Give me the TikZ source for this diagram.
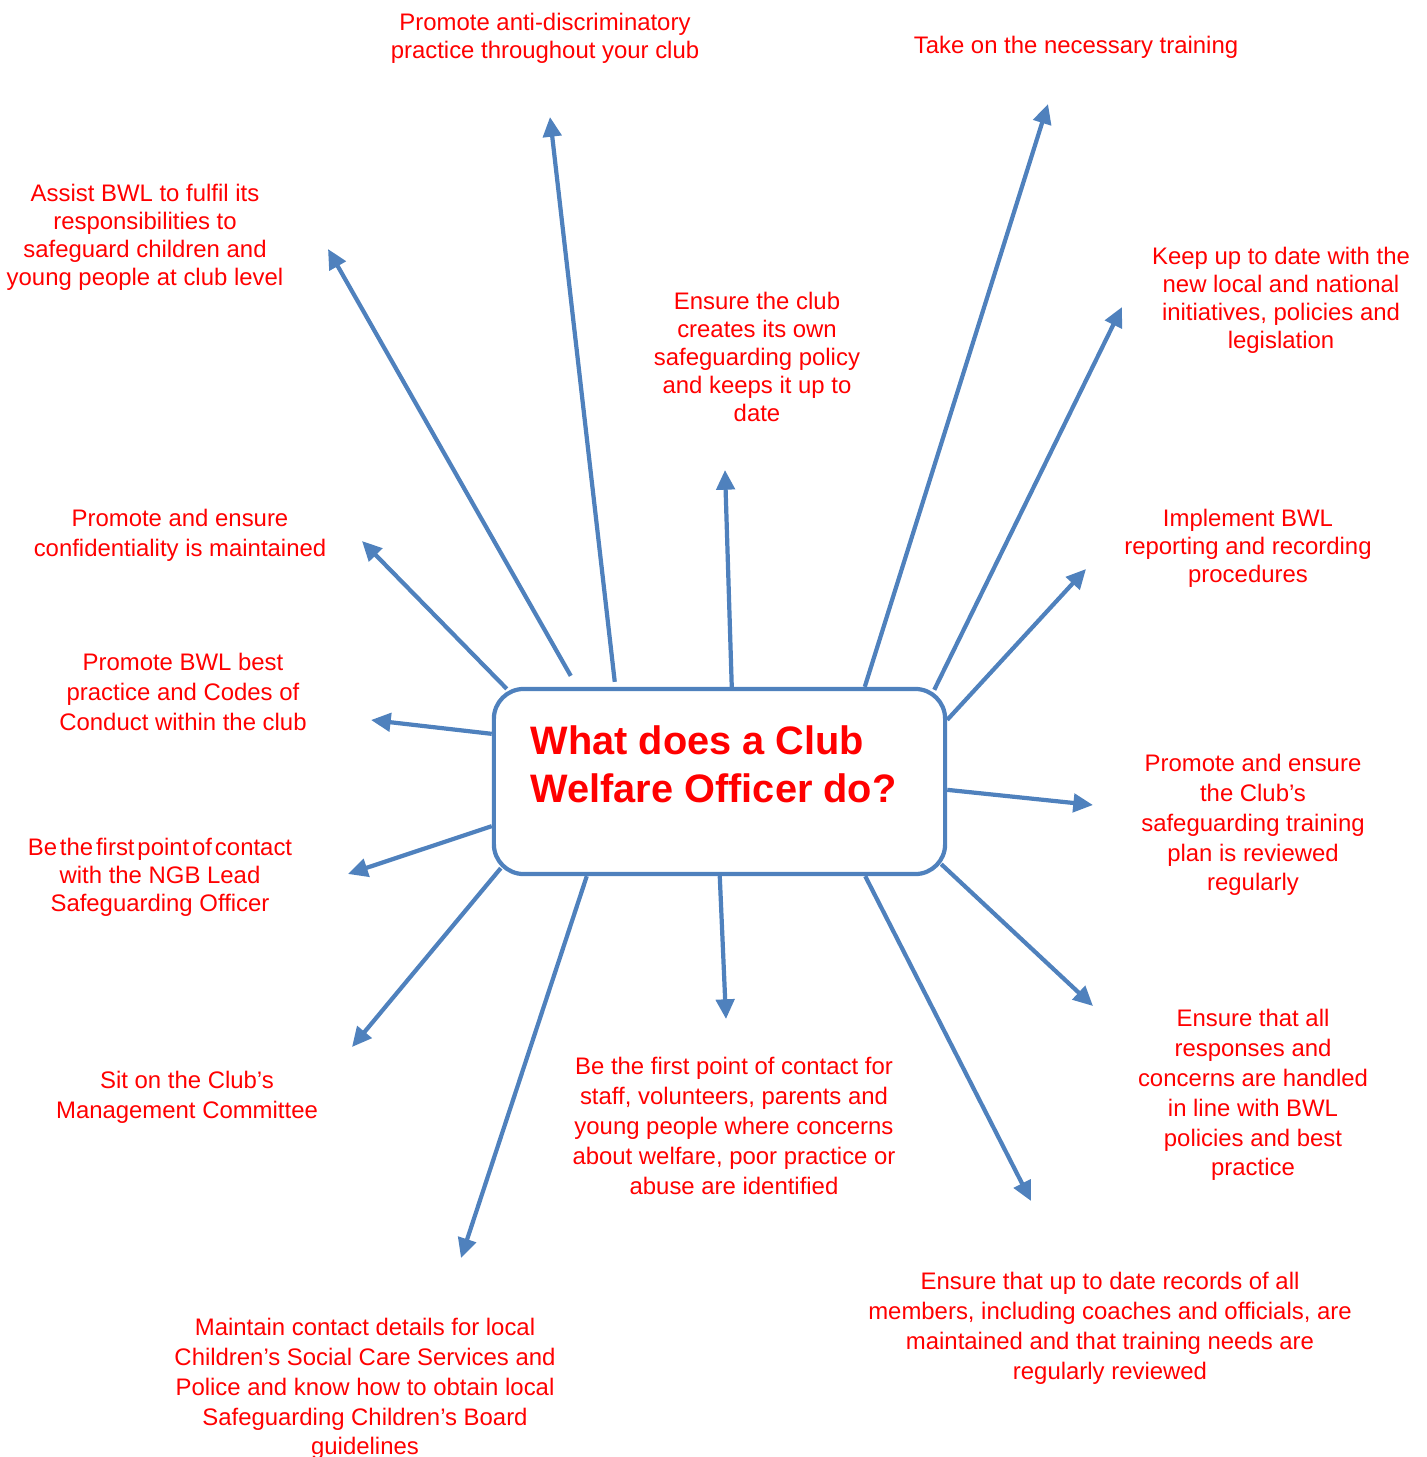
\documentclass[tikz,border=0pt]{standalone}
\usepackage{fontspec}
\setmainfont{Liberation Sans}
\usepackage{tikz}
\usetikzlibrary{positioning, arrows.meta}
\definecolor{wblue}{HTML}{4F81BD}
\definecolor{wred}{HTML}{FF0000}
\tikzset{
every node/.style={inner sep=0pt}, % labels sit right on their coordinates
duty/.style={text=wred, align=center, font=\fontsize{6.8}{7.97}\selectfont}, % the tighter labels
dutyw/.style={duty, font=\fontsize{6.8}{8.5}\selectfont}, % same, with a looser leading
hub/.style={draw=wblue, line width=1.2pt, rounded corners=8.5pt, fill=white, minimum width=4.51cm, minimum height=1.85cm}, % the central box
spoke/.style={draw=wblue, line width=1.2pt, -{Triangle[length=5.6pt,width=5.2pt]}}, % the arrows out of the box
}

\begin{document}
\begin{tikzpicture}[x=0.01cm, y=-0.01cm]
        \useasboundingbox (0,0) rectangle (1427,1457);

        \node[hub] (hub) at (719.5,781.5) {};
        \node[anchor=west, text=wred, align=left, font=\fontsize{11.3}{13.7}\selectfont\bfseries] (title) at (530,764) {What does a Club\\Welfare Officer do?};

        \node[duty ] (anti)    at (545,38)   {Promote anti-discriminatory\\practice throughout your club};
        \node[duty ] (train)   at (1076,47)  {Take on the necessary training};
        \node[duty ] (assist)  at (145,237)  {Assist BWL to fulfil its\\responsibilities to\\safeguard children and\\young people at club level};
        \node[duty ] (keep)    at (1281,300) {Keep up to date with the\\new local and national\\initiatives, policies and\\legislation};
        \node[duty ] (policy)  at (757,357)  {Ensure the club\\creates its own\\safeguarding policy\\and keeps it up to\\date};
        \node[duty ] (report)  at (1248,548) {Implement BWL\\reporting and recording\\procedures};
        \node[dutyw] (conf)    at (180,535)  {Promote and ensure\\confidentiality is maintained};
        \node[dutyw] (codes)   at (183,692)  {Promote BWL best\\practice and Codes of\\Conduct within the club};
        \node[dutyw] (plan)    at (1253,825) {Promote and ensure\\the Club’s\\safeguarding training\\plan is reviewed\\regularly};
        \node[duty ] (ngb)     at (160,877)  {{\spaceskip=0.12em Be the first point of contact}\\with the NGB Lead\\Safeguarding Officer};
        \node[dutyw] (sit)     at (187,1097) {Sit on the Club’s\\Management Committee};
        \node[dutyw] (staff)   at (734,1126) {Be the first point of contact for\\staff, volunteers, parents and\\young people where concerns\\about welfare, poor practice or\\abuse are identified};
        \node[dutyw] (resp)    at (1253,1095) {Ensure that all\\responses and\\concerns are handled\\in line with BWL\\policies and best\\practice};
        \node[dutyw] (records) at (1110,1328) {Ensure that up to date records of all\\members, including coaches and officials, are\\maintained and that training needs are\\regularly reviewed};
        \node[dutyw] (contacts) at (365,1389) {Maintain contact details for local\\Children’s Social Care Services and\\Police and know how to obtain local\\Safeguarding Children’s Board\\guidelines};

        % where each arrow points
        \coordinate (assist-tip)   at (328,249);
        \coordinate (anti-tip)     at (550,117);
        \coordinate (policy-tip)   at (725,470);
        \coordinate (train-tip)    at (1048,104);
        \coordinate (keep-tip)     at (1122,307);
        \coordinate (report-tip)   at (1086,569);
        \coordinate (plan-tip)     at (1093,805);
        \coordinate (resp-tip)     at (1093,1006);
        \coordinate (records-tip)  at (1031,1201);
        \coordinate (staff-tip)    at (726,1019);
        \coordinate (contacts-tip) at (461,1258);
        \coordinate (sit-tip)      at (352,1047);
        \coordinate (ngb-tip)      at (348,874);
        \coordinate (codes-tip)    at (371,720);
        \coordinate (conf-tip)     at (362,541);

        \path
        ([shift={(79,-11)}]hub.north west) edge[spoke] (assist-tip)
        ([shift={(123,-5)}]hub.north west) edge[spoke] (anti-tip)
        ([shift={(240,0)}]hub.north west) edge[spoke] (policy-tip)
        ([shift={(373,0)}]hub.north west) edge[spoke] (train-tip)
        ([shift={(-13,3)}]hub.north east) edge[spoke] (keep-tip)
        ([shift={(0,33)}]hub.north east) edge[spoke] (report-tip)
        ([shift={(0,103)}]hub.north east) edge[spoke] (plan-tip)
        ([shift={(-6,-12)}]hub.south east) edge[spoke] (resp-tip)
        ([shift={(-82,0)}]hub.south east) edge[spoke] (records-tip)
        ([shift={(228,0)}]hub.south west) edge[spoke] (staff-tip)
        ([shift={(95,0)}]hub.south west) edge[spoke] (contacts-tip)
        ([shift={(9,-8)}]hub.south west) edge[spoke] (sit-tip)
        ([shift={(0,-50)}]hub.south west) edge[spoke] (ngb-tip)
        ([shift={(0,47)}]hub.north west) edge[spoke] (codes-tip)
        ([shift={(15,2)}]hub.north west) edge[spoke] (conf-tip);
    \end{tikzpicture}
\end{document}
